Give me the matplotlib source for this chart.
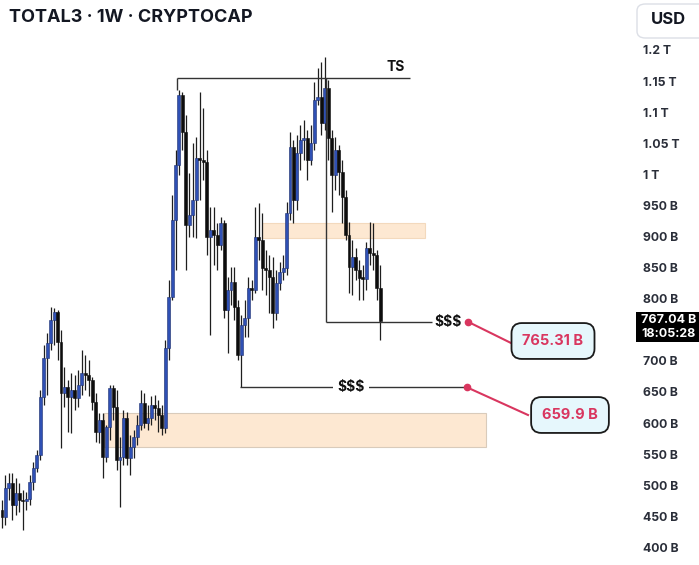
import numpy as np
import matplotlib
matplotlib.use("Agg")
import matplotlib.pyplot as plt
from matplotlib.patches import Rectangle, FancyBboxPatch

plt.rcParams['font.family'] = ['Inter', 'DejaVu Sans']

# weekly candles, values in billions USD
opens = [463, 451, 498, 506, 471, 490, 479, 477, 480, 508,
         530, 551, 644, 707, 731, 768, 781, 733, 651, 660,
         644, 656, 643, 664, 683, 680, 672, 636, 588, 607,
         548, 596, 659, 628, 543, 548, 611, 546, 564, 580,
         599, 635, 603, 611, 632, 627, 615, 595, 723, 805,
         929, 1017, 1130, 1070, 921, 937, 961, 1029, 1025, 1022,
         902, 913, 905, 889, 924, 784, 816, 829, 789, 712,
         760, 771, 820, 816, 902, 897, 852, 849, 837, 779,
         828, 845, 852, 940, 1046, 961, 1037, 1058, 1061, 1025,
         1053, 1122, 1127, 1085, 1141, 1061, 1001, 1041, 1006, 966,
         905, 853, 869, 849, 836, 834, 884, 876, 873, 820]
closes = [451, 498, 506, 471, 490, 479, 477, 480, 508, 530,
          551, 644, 707, 731, 768, 781, 733, 651, 660, 644,
          656, 643, 664, 683, 680, 672, 636, 588, 607, 548,
          596, 659, 628, 543, 548, 611, 546, 564, 580, 599,
          635, 603, 611, 632, 627, 615, 595, 723, 805, 929,
          1017, 1130, 1070, 921, 937, 961, 1029, 1025, 1022, 902,
          913, 905, 889, 924, 784, 816, 829, 789, 712, 760,
          771, 820, 816, 902, 897, 852, 849, 837, 779, 828,
          845, 852, 940, 1046, 961, 1037, 1058, 1061, 1025, 1053,
          1122, 1127, 1085, 1141, 1061, 1001, 1041, 1006, 966, 905,
          853, 869, 849, 836, 834, 884, 876, 873, 820, 767.04]
highs = [479, 519, 522, 522, 514, 506, 495, 492, 519, 540,
         559, 656, 728, 747, 789, 787, 784, 752, 693, 672,
         683, 680, 688, 720, 712, 704, 677, 651, 619, 619,
         599, 664, 664, 655, 580, 623, 620, 583, 591, 615,
         656, 651, 632, 646, 648, 640, 632, 736, 832, 969,
         1041, 1138, 1135, 1098, 1005, 1053, 1062, 1135, 1109, 1041,
         950, 950, 924, 934, 929, 837, 853, 853, 800, 776,
         800, 837, 832, 950, 956, 940, 881, 873, 869, 849,
         861, 873, 958, 1070, 1058, 1066, 1082, 1090, 1074, 1082,
         1151, 1173, 1183, 1191, 1154, 1074, 1062, 1050, 1025, 977,
         926, 897, 884, 865, 857, 894, 926, 924, 881, 857]
lows = [434, 439, 479, 447, 455, 460, 431, 463, 471, 495,
        524, 543, 632, 648, 720, 728, 704, 562, 628, 588,
        587, 623, 628, 648, 656, 646, 623, 572, 570, 514,
        540, 575, 607, 527, 468, 535, 535, 519, 546, 567,
        591, 595, 591, 599, 607, 588, 583, 587, 704, 800,
        849, 1001, 1041, 849, 902, 902, 900, 961, 993, 873,
        744, 857, 849, 881, 771, 715, 792, 768, 704, 660,
        741, 741, 800, 812, 865, 816, 808, 779, 755, 768,
        816, 832, 841, 929, 924, 945, 1009, 1025, 993, 1017,
        1041, 1114, 1066, 1074, 1025, 942, 977, 969, 924, 897,
        812, 808, 832, 800, 800, 816, 857, 849, 800, 736]

tick_values = [1200, 1150, 1100, 1050, 1000, 950, 900, 850, 800,
               700, 650, 600, 550, 500, 450, 400]
tick_labels = ['1.2 T', '1.15 T', '1.1 T', '1.05 T', '1 T', '950 B', '900 B',
               '850 B', '800 B', '700 B', '650 B', '600 B', '550 B', '500 B',
               '450 B', '400 B']

last_price = 767.04
last_time = "18:05:28"
ts_level = 1157
liq_high = 765.31
liq_low = 659.9
zone_upper = (900, 924)
zone_lower = (564, 619)

W, H = 699, 565
BLUE = '#2f50b4'
RED = '#d9365f'


def px_x(x):
    # screen pixel -> candle index
    return (x - 2) / 3.47


def px_y(y):
    # screen pixel -> price
    return 400 + (549 - y) / 0.622


fig = plt.figure(figsize=(W / 100, H / 100), dpi=100)
ax = fig.add_axes([0, 0, 1, 1])
ax.set_xlim(px_x(0), px_x(W))
ax.set_ylim(px_y(H), px_y(0))
ax.axis('off')

o = np.array(opens, dtype=float)
c = np.array(closes, dtype=float)
hi = np.array(highs, dtype=float)
lo = np.array(lows, dtype=float)
idx = np.arange(len(c))

# zones
ax.add_patch(Rectangle((px_x(262), zone_upper[0]), px_x(425) - px_x(262),
                       zone_upper[1] - zone_upper[0], fc='#fde8d2', ec='#f3d9bd',
                       lw=0.8, zorder=1))
ax.add_patch(Rectangle((px_x(104), zone_lower[0]), px_x(486) - px_x(104),
                       zone_lower[1] - zone_lower[0], fc='#fde8d2', ec='#d9cbbb',
                       lw=0.8, zorder=1))

# candles
up = c >= o
ax.vlines(idx, lo, hi, color='#1e1e1e', lw=0.9, zorder=2)
bottom = np.minimum(o, c)
height = np.maximum(np.abs(c - o), 2.5)
ax.bar(idx[up], height[up], bottom=bottom[up], width=0.85, color=BLUE,
       edgecolor='#1c2f70', linewidth=0.4, zorder=3)
ax.bar(idx[~up], height[~up], bottom=bottom[~up], width=0.85, color='#0d0d0d',
       edgecolor='#0d0d0d', linewidth=0.4, zorder=3)

# TS line
first_top = int(np.argmax(hi[:70]))
second_top = int(np.argmax(hi))
ax.hlines(ts_level, first_top - 0.6, px_x(410), color='#333333', lw=1, zorder=4)
ax.vlines(first_top - 0.6, hi[first_top], ts_level, color='#333333', lw=1, zorder=4)
ax.text(px_x(396), px_y(67), 'TS', ha='center', va='center', fontsize=10,
        fontweight='bold', color='#111111')

# upper liquidity line
ax.vlines(second_top + 0.5, liq_high, ts_level, color='#333333', lw=1, zorder=4)
ax.hlines(liq_high, second_top + 0.5, px_x(432), color='#333333', lw=1, zorder=4)
ax.text(px_x(448), liq_high, '$$$', ha='center', va='center', fontsize=10,
        fontweight='bold', color='#111111')

# lower liquidity line, from the swing low between the two tops
low_i = first_top + int(np.argmin(lo[first_top:second_top]))
ax.hlines(liq_low, low_i - 0.3, px_x(464), color='#333333', lw=1, zorder=4)
ax.text(px_x(351), liq_low, '$$$', ha='center', va='center', fontsize=10,
        fontweight='bold', color='#111111',
        bbox=dict(boxstyle='square,pad=0.3', fc='white', ec='none'), zorder=5)

# callouts
ax.plot([px_x(468), px_x(511)], [liq_high, px_y(343)], color=RED, lw=1.5, zorder=5)
ax.plot(px_x(468), liq_high, 'o', color=RED, ms=4.5, zorder=6)
ax.plot([px_x(467), px_x(528)], [liq_low, px_y(415)], color=RED, lw=1.5, zorder=5)
ax.plot(px_x(467), liq_low, 'o', color=RED, ms=4.5, zorder=6)

box = dict(boxstyle='round,pad=0.75,rounding_size=0.7', fc='#e6f7fc', ec='#1a1a1a', lw=1.3)
ax.text(px_x(553), px_y(341), f'{liq_high:.2f} B', ha='center', va='center',
        fontsize=10.5, fontweight='bold', color=RED, bbox=box, zorder=7)
ax.text(px_x(570), px_y(415), f'{liq_low:.1f} B', ha='center', va='center',
        fontsize=10.5, fontweight='bold', color=RED, bbox=box, zorder=7)

# right price scale
for v, lab in zip(tick_values, tick_labels):
    ax.text(643 / W, v, lab, transform=ax.get_yaxis_transform(), ha='left',
            va='center', fontsize=8.8, fontweight='bold', color='#2a2e39')

fig.patches.append(Rectangle((636 / W, 1 - 342 / H), 63 / W, 30 / H,
                             transform=fig.transFigure, fc='black', ec='none'))
fig.text(641 / W, 1 - 320 / H, f'{last_price:.2f} B', ha='left', va='center',
         fontsize=9, fontweight='bold', color='white')
fig.text(641 / W, 1 - 334 / H, last_time, ha='left', va='center',
         fontsize=9, fontweight='bold', color='white')

fig.patches.append(FancyBboxPatch((637 / W, 1 - 38 / H), 75 / W, 34 / H,
                                  boxstyle='round,pad=0,rounding_size=0.012',
                                  transform=fig.transFigure, fc='white',
                                  ec='#dcdfe6', lw=1))
fig.text(668 / W, 1 - 20 / H, 'USD', ha='center', va='center', fontsize=12,
         fontweight='bold', color='#131722')

fig.text(9 / W, 1 - 18 / H, 'TOTAL3 · 1W · CRYPTOCAP', ha='left', va='center',
         fontsize=13, fontweight='bold', color='#131722')

fig.savefig('out.png', dpi=100, facecolor='white')
